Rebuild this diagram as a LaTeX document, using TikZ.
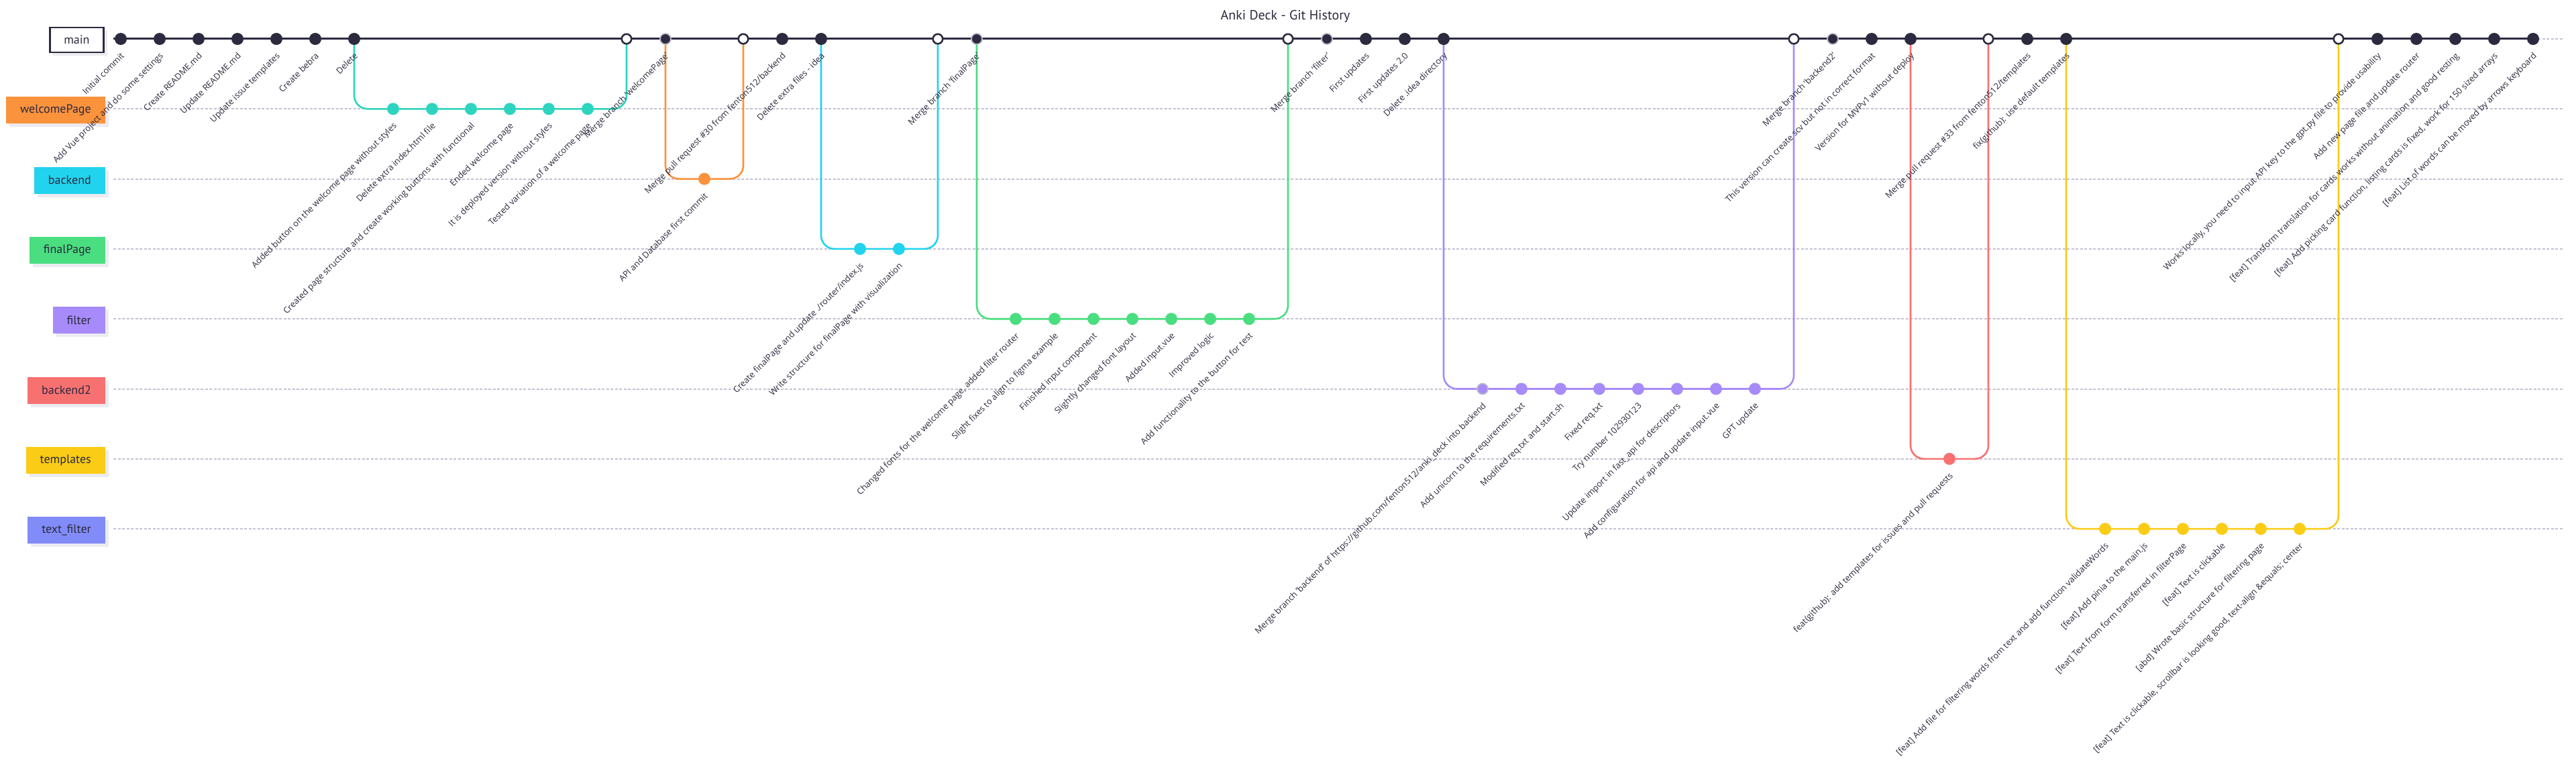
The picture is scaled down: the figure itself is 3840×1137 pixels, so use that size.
\documentclass[tikz,border=0pt]{standalone}
\usepackage{fontspec}
\setmainfont{Open Sans}
\newfontfamily\branchfont{PT Sans}
\usetikzlibrary{shadows}
\definecolor{ink}{HTML}{2B2A3E}
\definecolor{lanegray}{HTML}{C4C1D2}
\definecolor{ringgray}{HTML}{BDBACB}
\definecolor{shadowgray}{HTML}{ECEBF0}
\definecolor{cteal}{HTML}{2DD4BF}
\definecolor{corange}{HTML}{FB923C}
\definecolor{ccyan}{HTML}{22D3EE}
\definecolor{cgreen}{HTML}{4ADE80}
\definecolor{cpurple}{HTML}{A78BFA}
\definecolor{cred}{HTML}{F87171}
\definecolor{cyellow}{HTML}{FACC15}
\definecolor{cindigo}{HTML}{818CF8}
\pgfdeclarelayer{bg}
\pgfsetlayers{bg,main}
\tikzset{
  cdot/.style={circle, inner sep=0pt, minimum size=18pt, fill=#1},
  rdot/.style={circle, inner sep=0pt, minimum size=16pt, fill=#1, draw=ringgray, line width=1.8pt},
  mergec/.style={circle, inner sep=0pt, minimum size=14.5pt, draw=ink, line width=2.6pt, fill=white},
  clabel/.style={rotate=45, anchor=north east, inner sep=0pt, text=ink, font=\fontsize{12.8}{14}\selectfont},
  bbox/.style={anchor=east, minimum height=40pt, inner xsep=21pt, inner ysep=0pt, text=ink,
    font=\branchfont\fontsize{18}{20}\selectfont,
    drop shadow={shadow xshift=5pt, shadow yshift=-5pt, fill=shadowgray, opacity=1}},
  lane/.style={lanegray, line width=2pt, dash pattern=on 4pt off 2.5pt},
  branchline/.style={#1, line width=2.6pt, rounded corners=20pt},
}
\newcommand\mkcommit[5]{%
  \pgfmathsetmacro\cxx{180+58*#2}%
  \node[#4] (#1) at (\cxx,#3) {};%
  \node[clabel] (#1l) at (\cxx-1,#3+19) {#5};%
}
\newcommand\mkmerge[3]{%
  \pgfmathsetmacro\cxx{180+58*#2}%
  \node[mergec] (#1) at (\cxx,#3) {};%
}
\def\LA{58}
\def\LB{162.3}
\def\LC{266.6}
\def\LD{370.9}
\def\LE{475.2}
\def\LF{579.5}
\def\LG{683.8}
\def\LH{788.1}
\begin{document}
\begin{tikzpicture}[x=1pt, y=-1pt]
\useasboundingbox (0,0) rectangle (3840,1137);
% title
\node[text=ink, font=\branchfont\fontsize{20}{22}\selectfont] (title) at (1916,24) {Anki Deck - Git History};
% branch boxes
\node[bbox, fill=white, draw=ink, line width=2.5pt, minimum height=37pt] (bmain) at (155.8,\LA+1.5) {main};
\node[bbox, fill=corange] (bwelcome) at (157,\LB+2) {welcomePage};
\node[bbox, fill=ccyan] (bbackend) at (157,\LC+2) {backend};
\node[bbox, fill=cgreen] (bfinal) at (157,\LD+2) {finalPage};
\node[bbox, fill=cpurple] (bfilter) at (157,\LE+2) {filter};
\node[bbox, fill=cred] (bbackendb) at (157,\LF+2) {backend2};
\node[bbox, fill=cyellow] (btemplates) at (157,\LG+2) {templates};
\node[bbox, fill=cindigo] (btextfilter) at (157,\LH+2) {text\_filter};
% lane end points
\foreach \n/\yy in {a/\LA,b/\LB,c/\LC,d/\LD,e/\LE,f/\LF,g/\LG,h/\LH}{
  \coordinate (ls\n) at (169,\yy);
  \coordinate (le\n) at (3822,\yy);
}
% commits
\mkcommit{c0}{0}{\LA}{cdot=ink}{Initial commit}
\mkcommit{c1}{1}{\LA}{cdot=ink}{Add Vue project and do some settings}
\mkcommit{c2}{2}{\LA}{cdot=ink}{Create README.md}
\mkcommit{c3}{3}{\LA}{cdot=ink}{Update README.md}
\mkcommit{c4}{4}{\LA}{cdot=ink}{Update issue templates}
\mkcommit{c5}{5}{\LA}{cdot=ink}{Create bebra}
\mkcommit{c6}{6}{\LA}{cdot=ink}{Delete}
\mkcommit{c7}{7}{\LB}{cdot=cteal}{Added button on the welcome page without styles}
\mkcommit{c8}{8}{\LB}{cdot=cteal}{Delete extra index.html file}
\mkcommit{c9}{9}{\LB}{cdot=cteal}{Created page structure and create working buttons with functional}
\mkcommit{c10}{10}{\LB}{cdot=cteal}{Ended welcome page}
\mkcommit{c11}{11}{\LB}{cdot=cteal}{It is deployed version without styles}
\mkcommit{c12}{12}{\LB}{cdot=cteal}{Tested variation of a welcome page}
\mkmerge{c13}{13}{\LA}
\mkcommit{c14}{14}{\LA}{rdot=ink}{Merge branch 'welcomePage'}
\mkcommit{c15}{15}{\LC}{cdot=corange}{API and Database first commit}
\mkmerge{c16}{16}{\LA}
\mkcommit{c17}{17}{\LA}{cdot=ink}{Merge pull request \#30 from fenton512/backend}
\mkcommit{c18}{18}{\LA}{cdot=ink}{Delete extra files - idea}
\mkcommit{c19}{19}{\LD}{cdot=ccyan}{Create finalPage and update ./router/index.js}
\mkcommit{c20}{20}{\LD}{cdot=ccyan}{Write structure for finalPage with visualization}
\mkmerge{c21}{21}{\LA}
\mkcommit{c22}{22}{\LA}{rdot=ink}{Merge branch 'finalPage'}
\mkcommit{c23}{23}{\LE}{cdot=cgreen}{Changed fonts for the welcome page, added filter router}
\mkcommit{c24}{24}{\LE}{cdot=cgreen}{Slight fixes to align to figma example}
\mkcommit{c25}{25}{\LE}{cdot=cgreen}{Finished input component}
\mkcommit{c26}{26}{\LE}{cdot=cgreen}{Slightly changed font layout}
\mkcommit{c27}{27}{\LE}{cdot=cgreen}{Added input.vue}
\mkcommit{c28}{28}{\LE}{cdot=cgreen}{Improved logic}
\mkcommit{c29}{29}{\LE}{cdot=cgreen}{Add functionality to the button for test}
\mkmerge{c30}{30}{\LA}
\mkcommit{c31}{31}{\LA}{rdot=ink}{Merge branch 'filter'}
\mkcommit{c32}{32}{\LA}{cdot=ink}{First updates}
\mkcommit{c33}{33}{\LA}{cdot=ink}{First updates 2.0}
\mkcommit{c34}{34}{\LA}{cdot=ink}{Delete .idea directory}
\mkcommit{c35}{35}{\LF}{rdot=cpurple}{Merge branch 'backend' of https://github.com/fenton512/anki\_deck into backend}
\mkcommit{c36}{36}{\LF}{cdot=cpurple}{Add unicorn to the requirements.txt}
\mkcommit{c37}{37}{\LF}{cdot=cpurple}{Modified req.txt and start.sh}
\mkcommit{c38}{38}{\LF}{cdot=cpurple}{Fixed req.txt}
\mkcommit{c39}{39}{\LF}{cdot=cpurple}{Try number 102930123}
\mkcommit{c40}{40}{\LF}{cdot=cpurple}{Update import in fast\_api for descriptors}
\mkcommit{c41}{41}{\LF}{cdot=cpurple}{Add configuration for api and update input.vue}
\mkcommit{c42}{42}{\LF}{cdot=cpurple}{GPT update}
\mkmerge{c43}{43}{\LA}
\mkcommit{c44}{44}{\LA}{rdot=ink}{Merge branch 'backend2'}
\mkcommit{c45}{45}{\LA}{cdot=ink}{This version can create scv but not in correct format}
\mkcommit{c46}{46}{\LA}{cdot=ink}{Version for MVPv1 without deploy}
\mkcommit{c47}{47}{\LG}{cdot=cred}{feat(github): add templates for issues and pull requests}
\mkmerge{c48}{48}{\LA}
\mkcommit{c49}{49}{\LA}{cdot=ink}{Merge pull request \#33 from fenton512/templates}
\mkcommit{c50}{50}{\LA}{cdot=ink}{fix(github): use default templates}
\mkcommit{c51}{51}{\LH}{cdot=cyellow}{[feat] Add file for filtering words from text and add function validateWords}
\mkcommit{c52}{52}{\LH}{cdot=cyellow}{[feat] Add pinia to the main.js}
\mkcommit{c53}{53}{\LH}{cdot=cyellow}{[feat] Text from form transferred in filterPage}
\mkcommit{c54}{54}{\LH}{cdot=cyellow}{[feat] Text is clickable}
\mkcommit{c55}{55}{\LH}{cdot=cyellow}{[abd] Wrote basic structure for filtering page}
\mkcommit{c56}{56}{\LH}{cdot=cyellow}{[feat] Text is clickable, scrollbar is looking good, text-align \&equals; center}
\mkmerge{c57}{57}{\LA}
\mkcommit{c58}{58}{\LA}{cdot=ink}{Works locally, you need to input API key to the gpt.py file to provide usability}
\mkcommit{c59}{59}{\LA}{cdot=ink}{Add new page file and update router}
\mkcommit{c60}{60}{\LA}{cdot=ink}{[feat] Transform translation for cards works without animation and good resting}
\mkcommit{c61}{61}{\LA}{cdot=ink}{[feat] Add picking card function, listing cards is fixed, work for 150 sized arrays}
\mkcommit{c62}{62}{\LA}{cdot=ink}{[feat] List of words can be moved by arrows keyboard}
% lines behind
\begin{pgfonlayer}{bg}
\fill[white] (0,0) rectangle (3840,1137);
\foreach \n in {a,b,c,d,e,f,g,h}{\draw[lane] (ls\n) -- (le\n);}
\draw[branchline=cteal] (c6.center) |- (c7.center) -- (c12.center) -| (c13.center);
\draw[branchline=corange] (c14.center) |- (c15.center) -| (c16.center);
\draw[branchline=ccyan] (c18.center) |- (c19.center) -- (c20.center) -| (c21.center);
\draw[branchline=cgreen] (c22.center) |- (c23.center) -- (c29.center) -| (c30.center);
\draw[branchline=cpurple] (c34.center) |- (c35.center) -- (c42.center) -| (c43.center);
\draw[branchline=cred] (c46.center) |- (c47.center) -| (c48.center);
\draw[branchline=cyellow] (c50.center) |- (c51.center) -- (c56.center) -| (c57.center);
\draw[ink, line width=3pt] (lsa) -- (c62.center);
\end{pgfonlayer}
\end{tikzpicture}
\end{document}
